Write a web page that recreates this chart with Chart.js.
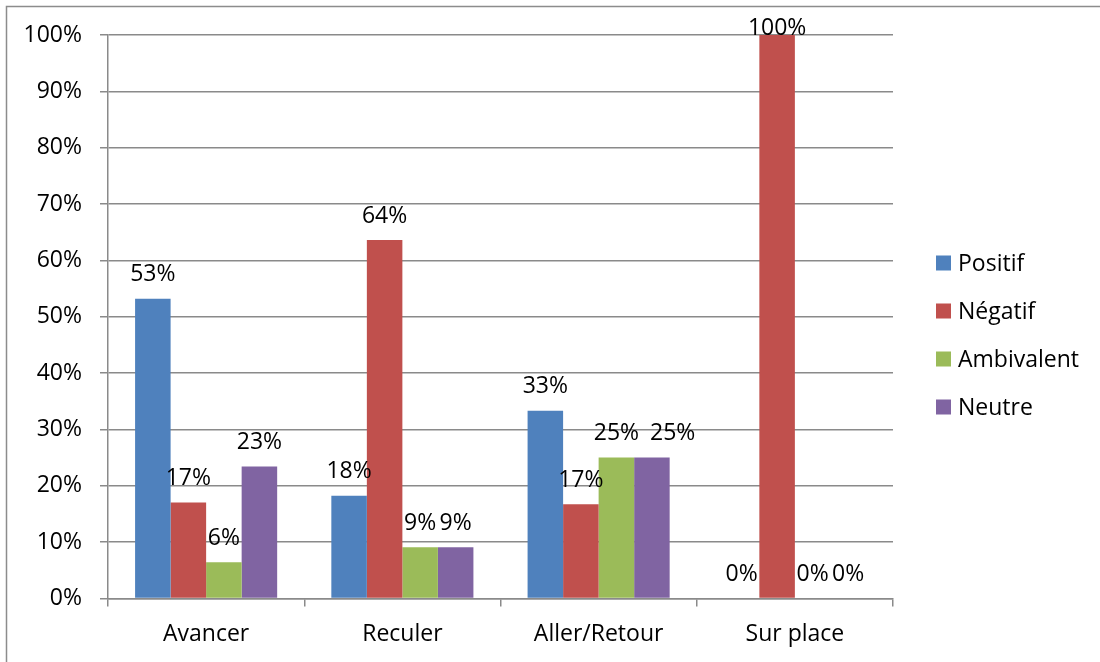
<!DOCTYPE html>
<html>
<head>
<meta charset="utf-8">
<script src="https://cdn.jsdelivr.net/npm/chart.js@4/dist/chart.umd.min.js"></script>
<style>
  body { margin: 0; background: #fff; }
  canvas { display: block; }
</style>
</head>
<body>
<canvas id="myChart" width="1100" height="662"></canvas>
<script>
const categories = ["Avancer", "Reculer", "Aller/Retour", "Sur place"];
const seriesNames = ["Positif", "Négatif", "Ambivalent", "Neutre"];
const positif = [53.2, 18.2, 33.3, 0];
const negatif = [17.0, 63.6, 16.7, 100];
const ambivalent = [6.4, 9.1, 25, 0];
const neutre = [23.4, 9.1, 25, 0];
const colors = ["#4F81BD", "#C0504D", "#9BBB59", "#8064A2"];

const FONT = { family: "'Open Sans', sans-serif", size: 23 };
const GRID = "#8a8a8a";

// border round the whole chart, like the office export
const frame = {
  id: "frame",
  beforeDraw(chart) {
    const c = chart.ctx;
    c.save();
    c.fillStyle = "#fff";
    c.fillRect(0, 0, chart.width, chart.height);
    c.strokeStyle = "#8c8c8c";
    c.lineWidth = 1.5;
    c.strokeRect(6.5, 6.5, 1200, 1200);
    c.restore();
  },
};

// value labels above each bar, pushed right when they would overlap
const valueLabels = {
  id: "valueLabels",
  afterDatasetsDraw(chart) {
    const c = chart.ctx;
    c.save();
    c.font = FONT.size + "px " + FONT.family;
    c.fillStyle = "#000";
    c.textAlign = "center";
    c.textBaseline = "middle";
    const lastRight = {};
    chart.data.datasets.forEach((ds, i) => {
      chart.getDatasetMeta(i).data.forEach((bar, j) => {
        const txt = Math.round(ds.data[j]) + "%";
        const w = c.measureText(txt).width;
        const y = Math.max(bar.y - 24, 28);
        let x = bar.x;
        const prev = lastRight[j];
        if (prev && Math.abs(prev.y - y) < 20 && x - w / 2 < prev.right + 2) {
          x = prev.right + 11 + w / 2;
        }
        c.fillText(txt, x, y);
        lastRight[j] = { right: x + w / 2, y };
      });
    });
    c.restore();
  },
};

// legend on the right
const sideLegend = {
  id: "sideLegend",
  afterDraw(chart) {
    const c = chart.ctx;
    c.save();
    c.font = FONT.size + "px " + FONT.family;
    c.textBaseline = "middle";
    chart.data.datasets.forEach((ds, i) => {
      const y = 263 + i * 48;
      c.fillStyle = ds.backgroundColor;
      c.fillRect(936, y - 7.5, 15, 15);
      c.fillStyle = "#000";
      c.fillText(ds.label, 958, y + 1);
    });
    c.restore();
  },
};

const seriesData = [positif, negatif, ambivalent, neutre];

const ctx = document.getElementById("myChart").getContext("2d");
const chart = new Chart(ctx, {
  type: "bar",
  data: {
    labels: categories,
    datasets: seriesNames.map((name, i) => ({
      label: name,
      data: seriesData[i],
      backgroundColor: colors[i],
      borderWidth: 0,
      categoryPercentage: 0.724,
      barPercentage: 1,
    })),
  },
  options: {
    responsive: false,
    animation: false,
    layout: { padding: { left: 0, right: 207, top: 35, bottom: 0 } },
    plugins: {
      legend: { display: false },
      tooltip: { enabled: false },
    },
    scales: {
      x: {
        grid: { drawOnChartArea: false, offset: true, tickLength: 8, color: GRID, lineWidth: 1.5 },
        border: { color: GRID, width: 1.5 },
        ticks: { font: FONT, color: "#000", padding: 14 },
      },
      y: {
        min: 0,
        max: 100,
        afterFit(scale) { scale.width = 108; },
        grid: { tickLength: 8, color: GRID, lineWidth: 1.5 },
        border: { color: GRID, width: 1.5 },
        ticks: {
          stepSize: 10,
          font: FONT,
          color: "#000",
          padding: 18,
          callback: (v) => v + "%",
        },
      },
    },
  },
  plugins: [frame, valueLabels, sideLegend],
});
</script>
</body>
</html>
